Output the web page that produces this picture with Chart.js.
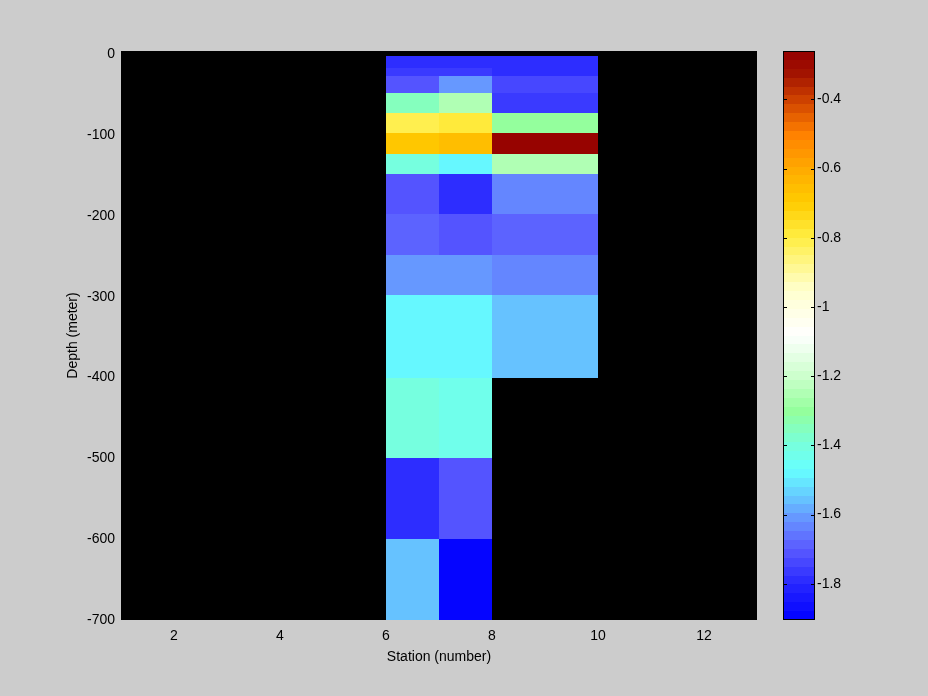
<!DOCTYPE html>
<html>
<head>
<meta charset="utf-8">
<script src="https://cdn.jsdelivr.net/npm/chart.js@4"></script>
<style>
  html, body { margin: 0; padding: 0; background: #cccccc; }
  #wrap { position: relative; width: 928px; height: 696px; }
  #main { position: absolute; left: 0; top: 0; }
  #cbar { position: absolute; left: 760px; top: 0; }
</style>
</head>
<body>
<div id="wrap">
  <canvas id="main" width="928" height="696"></canvas>
  <canvas id="cbar" width="168" height="696"></canvas>
</div>
<script>
// station edges of the three columns: 6-7, 7-8, 8-10
const stationEdges = [6, 7, 8, 10];
// depth edges (m) of the layers, top to bottom
const depthEdges = [-2, -7, -17, -27, -48, -73, -98, -123, -148, -198, -248, -298, -400, -500, -600, -700];
// values per layer for each column
const station6 = [-1.80, -1.796, -1.764, -1.70, -1.35, -0.80, -0.69, -1.40, -1.70, -1.69, -1.61, -1.48, -1.40, -1.80, -1.55];
const station7 = [-1.802, -1.802, -1.774, -1.62, -1.25, -0.775, -0.65, -1.47, -1.784, -1.70, -1.61, -1.48, -1.44, -1.70, -1.905];
const station8 = [-1.802, -1.802, -1.784, -1.732, -1.76, -1.30, -0.27, -1.26, -1.644, -1.68, -1.632, -1.55];
const columns = [station6, station7, station8];

const xTicks = [2, 4, 6, 8, 10, 12];
const yTicks = [0, -100, -200, -300, -400, -500, -600, -700];
const cbarTicks = [-1.8, -1.6, -1.4, -1.2, -1, -0.8, -0.6, -0.4];

const cmin = -1.905, cmax = -0.26, nColors = 64;
const cmapValues = [-1.905, -1.80, -1.70, -1.62, -1.55, -1.47, -1.40, -1.30, -1.20, -1.08, -0.95, -0.80, -0.70, -0.60, -0.50, -0.40, -0.32, -0.26];
const cmapColors = ['#0000ff', '#2828ff', '#5a5aff', '#6690ff', '#66c8ff', '#66ffff', '#77ffdd', '#94ff9c', '#ccffcc', '#ffffff', '#ffffcc', '#ffee44', '#ffcc00', '#ffaa00', '#ff8000', '#cc4000', '#a01000', '#940000'];

function hex(c) {
    return [parseInt(c.substr(1, 2), 16), parseInt(c.substr(3, 2), 16), parseInt(c.substr(5, 2), 16)];
}
function smoothColor(v) {
    if (v <= cmapValues[0]) return cmapColors[0];
    for (let i = 1; i < cmapValues.length; i++) {
        if (v <= cmapValues[i]) {
            const t = (v - cmapValues[i - 1]) / (cmapValues[i] - cmapValues[i - 1]);
            const a = hex(cmapColors[i - 1]), b = hex(cmapColors[i]);
            const c = a.map((x, k) => Math.round(x + (b[k] - x) * t));
            return `rgb(${c[0]},${c[1]},${c[2]})`;
        }
    }
    return cmapColors[cmapColors.length - 1];
}
// discrete colour for a value (64 steps like the colorbar)
function colorFor(v) {
    let i = Math.floor((v - cmin) / (cmax - cmin) * nColors);
    i = Math.max(0, Math.min(nColors - 1, i));
    return smoothColor(cmin + (i + 0.5) * (cmax - cmin) / nColors);
}

const font = { family: 'Liberation Sans, Arial, sans-serif', size: 14 };
Chart.defaults.color = '#000';

const cellsPlugin = {
    id: 'cells',
    beforeDatasetsDraw(chart) {
        const { ctx, chartArea, scales: { x, y } } = chart;
        ctx.save();
        ctx.fillStyle = '#000';
        ctx.fillRect(chartArea.left, chartArea.top, chartArea.right - chartArea.left, chartArea.bottom - chartArea.top);
        columns.forEach((vals, c) => {
            const x0 = Math.round(x.getPixelForValue(stationEdges[c]));
            const x1 = Math.round(x.getPixelForValue(stationEdges[c + 1]));
            vals.forEach((v, r) => {
                const y0 = Math.round(y.getPixelForValue(depthEdges[r]));
                const y1 = Math.round(y.getPixelForValue(depthEdges[r + 1]));
                ctx.fillStyle = colorFor(v);
                ctx.fillRect(x0, y0, x1 - x0, y1 - y0);
            });
        });
        ctx.restore();
    }
};

new Chart(document.getElementById('main'), {
    type: 'scatter',
    data: { datasets: [] },
    plugins: [cellsPlugin],
    options: {
        responsive: false,
        animation: false,
        layout: { padding: { left: 0, top: 51, right: 171, bottom: 0 } },
        plugins: { legend: { display: false }, tooltip: { enabled: false } },
        scales: {
            x: {
                type: 'linear', min: 1, max: 13,
                grid: { display: false, drawTicks: false },
                border: { display: false },
                afterBuildTicks: s => { s.ticks = xTicks.map(v => ({ value: v })); },
                afterFit: s => { s.height = 76; },
                ticks: { font, padding: 8 },
                title: { display: true, text: 'Station (number)', font, padding: { top: 0, bottom: 30 } }
            },
            y: {
                type: 'linear', min: -700, max: 4,
                grid: { display: false, drawTicks: false },
                border: { display: false },
                afterBuildTicks: s => { s.ticks = yTicks.map(v => ({ value: v })); },
                afterFit: s => { s.width = 121; },
                ticks: { font, padding: 6 },
                title: { display: true, text: 'Depth (meter)', font, padding: { top: 65, bottom: 0 } }
            }
        }
    }
});

const cbarPlugin = {
    id: 'cbarFill',
    beforeDatasetsDraw(chart) {
        const { ctx, chartArea: a, scales: { y } } = chart;
        ctx.save();
        for (let i = 0; i < nColors; i++) {
            const v0 = cmin + i * (cmax - cmin) / nColors;
            const v1 = cmin + (i + 1) * (cmax - cmin) / nColors;
            const p0 = Math.round(y.getPixelForValue(v0));
            const p1 = Math.round(y.getPixelForValue(v1));
            ctx.fillStyle = colorFor((v0 + v1) / 2);
            ctx.fillRect(a.left, p1, a.right - a.left, p0 - p1);
        }
        ctx.strokeStyle = '#000';
        ctx.lineWidth = 1;
        ctx.beginPath();
        cbarTicks.forEach(v => {
            const p = Math.round(y.getPixelForValue(v)) + 0.5;
            ctx.moveTo(a.left, p); ctx.lineTo(a.left + 4, p);
            ctx.moveTo(a.right, p); ctx.lineTo(a.right - 4, p);
        });
        ctx.stroke();
        ctx.strokeRect(a.left + 0.5, a.top + 0.5, a.right - a.left - 1, a.bottom - a.top - 1);
        ctx.restore();
    }
};

new Chart(document.getElementById('cbar'), {
    type: 'scatter',
    data: { datasets: [] },
    plugins: [cbarPlugin],
    options: {
        responsive: false,
        animation: false,
        layout: { padding: { left: 23, top: 51, right: 0, bottom: 76 } },
        plugins: { legend: { display: false }, tooltip: { enabled: false } },
        scales: {
            x: { display: false, min: 0, max: 1 },
            y: {
                type: 'linear', position: 'right', min: cmin, max: cmax,
                grid: { display: false, drawTicks: false },
                border: { display: false },
                afterBuildTicks: s => { s.ticks = cbarTicks.map(v => ({ value: v })); },
                afterFit: s => { s.width = 113; },
                ticks: { font, padding: 2, callback: v => String(v) }
            }
        }
    }
});
</script>
</body>
</html>
